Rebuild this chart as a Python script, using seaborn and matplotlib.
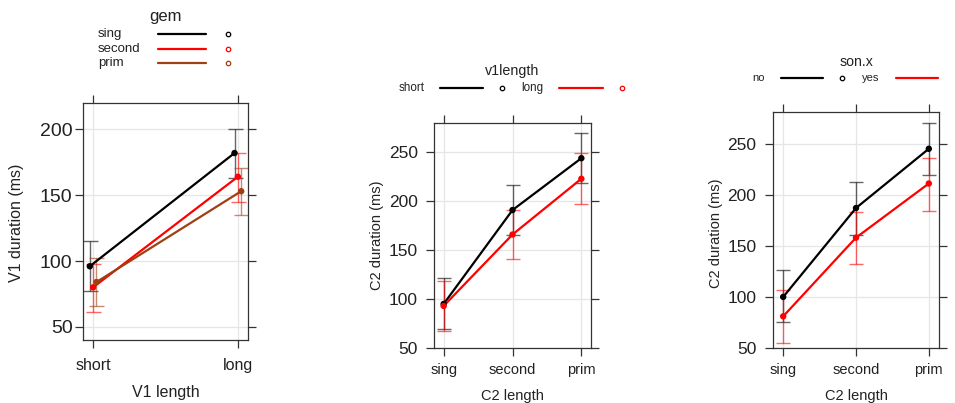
import numpy as np
import pandas as pd
import matplotlib
matplotlib.use("Agg")
import matplotlib.pyplot as plt
from matplotlib.lines import Line2D
import seaborn as sns

sns.set_theme(style="white")
plt.rcParams["font.family"] = ["Liberation Sans", "DejaVu Sans"]

# ---- V1 duration by V1 length, one line per gem level ----
v1_lengths = ["short", "long"]
gem_levels = ["sing", "second", "prim"]
v1_fit = [[96, 182], [80, 164], [84, 153]]
v1_lower = [[77, 163], [61, 145], [66, 135]]
v1_upper = [[115, 200], [98, 182], [102, 171]]

# ---- C2 duration by C2 length, one line per v1length level ----
c2_lengths = ["sing", "second", "prim"]
v1length_levels = ["short", "long"]
c2_fit_v1 = [[95, 191, 244], [93, 166, 223]]
c2_lower_v1 = [[69, 165, 219], [67, 141, 197]]
c2_upper_v1 = [[122, 217, 270], [118, 191, 249]]

# ---- C2 duration by C2 length, one line per son.x level ----
son_levels = ["no", "yes"]
c2_fit_son = [[100, 187, 245], [81, 158, 211]]
c2_lower_son = [[75, 161, 219], [55, 132, 184]]
c2_upper_son = [[126, 212, 270], [107, 183, 236]]

COLORS = ["#000000", "#ff0000", "#9e4012"]
TEXT = "#222222"
W, H = 955, 403


def long_frame(cats, groups, fit, lo, hi, dodge):
    rows = []
    for g, name in enumerate(groups):
        for i, cat in enumerate(cats):
            rows.append({"group": name, "cat": cat, "x": i + 1 + dodge[g],
                         "fit": fit[g][i], "lo": lo[g][i], "hi": hi[g][i]})
    return pd.DataFrame(rows)


def px(x, y):
    return x / W, 1 - y / H


fig = plt.figure(figsize=(W / 100, H / 100), dpi=100)


def make_axes(l, t, r, b):
    return fig.add_axes([l / W, 1 - b / H, (r - l) / W, (b - t) / H])


def draw_panel(ax, df, groups, cats, xlim, ylim, yticks, capsize,
               xtick_fs, ytick_fs, ypad, xpad):
    pal = dict(zip(groups, COLORS))
    ax.set_axisbelow(True)
    ax.grid(True, color="#e6e6e6", lw=0.9)
    for g in groups:
        d = df[df.group == g]
        ax.errorbar(d.x, d.fit, yerr=[d.fit - d.lo, d.hi - d.fit], fmt="none",
                    ecolor=pal[g], elinewidth=1.0, capsize=capsize,
                    capthick=1.0, alpha=0.6, zorder=2)
    sns.lineplot(data=df, x="x", y="fit", hue="group", hue_order=groups,
                 palette=pal, sort=False, estimator=None, errorbar=None,
                 lw=1.6, legend=False, ax=ax, zorder=3)
    sns.scatterplot(data=df, x="x", y="fit", hue="group", hue_order=groups,
                    palette=pal, s=13, linewidth=1.0, edgecolor="face",
                    legend=False, ax=ax, zorder=4)
    ax.set_xlim(*xlim)
    ax.set_ylim(*ylim)
    ax.set_xticks(range(1, len(cats) + 1))
    ax.set_xticklabels(cats)
    ax.set_yticks(yticks)
    ax.set_xlabel("")
    ax.set_ylabel("")
    ax.tick_params(axis="both", direction="out", length=6, width=0.9,
                   color="#333333", labelcolor=TEXT,
                   top=True, right=True, bottom=True, left=True,
                   labeltop=False, labelright=False)
    ax.tick_params(axis="y", pad=ypad, labelsize=ytick_fs)
    ax.tick_params(axis="x", pad=xpad, labelsize=xtick_fs)
    for s in ax.spines.values():
        s.set_color("#333333")
        s.set_linewidth(0.9)


def legend_row(x_text, y, label, x0, x1, xm, color, fs):
    fig.text(*px(x_text, y), label, fontsize=fs, color=TEXT, ha="left", va="center")
    fig.add_artist(Line2D([x0 / W, x1 / W], [1 - y / H] * 2, color=color,
                          lw=1.6, transform=fig.transFigure))
    fig.add_artist(Line2D([xm / W], [1 - y / H], marker="o", ms=3.2,
                          mfc="white", mec=color, mew=0.9, ls="none",
                          transform=fig.transFigure))


# Panel 1
ax1 = make_axes(83, 103, 248, 340)
df1 = long_frame(v1_lengths, gem_levels, v1_fit, v1_lower, v1_upper,
                 [-0.023, 0.0, 0.023])
draw_panel(ax1, df1, gem_levels, v1_lengths, (0.93, 2.07), (40, 220),
           [50, 100, 150, 200], 5.4, 11.5, 14, 1.5, 7)
fig.text(*px(165.5, 393), "V1 length", fontsize=11.5, color=TEXT, ha="center", va="center")
fig.text(*px(17, 223), "V1 duration (ms)", fontsize=11.5, color=TEXT,
         ha="center", va="center", rotation=90)
fig.text(*px(165, 16), "gem", fontsize=12, color=TEXT, ha="center", va="center")
for name, c, y in zip(gem_levels, COLORS, [34, 49, 63]):
    legend_row(98, y, name, 158, 206, 228, c, 9.5)

# Panel 2
ax2 = make_axes(434, 123, 591, 348)
df2 = long_frame(c2_lengths, v1length_levels, c2_fit_v1, c2_lower_v1,
                 c2_upper_v1, [0.0, 0.0])
draw_panel(ax2, df2, v1length_levels, c2_lengths, (0.86, 3.14), (50, 280),
           [50, 100, 150, 200, 250], 4.8, 10.5, 12.5, 5.5, 5)
fig.text(*px(512.5, 396), "C2 length", fontsize=10.5, color=TEXT, ha="center", va="center")
fig.text(*px(377, 235), "C2 duration (ms)", fontsize=10.5, color=TEXT,
         ha="center", va="center", rotation=90)
fig.text(*px(512, 70.5), "v1length", fontsize=10.3, color=TEXT, ha="center", va="center")
legend_row(399, 88, "short", 440, 483, 502, COLORS[0], 8.4)
legend_row(521.5, 88, "long", 559, 603, 622, COLORS[1], 8.4)

# Panel 3
ax3 = make_axes(773, 112, 939, 348)
df3 = long_frame(c2_lengths, son_levels, c2_fit_son, c2_lower_son,
                 c2_upper_son, [0.0, 0.0])
draw_panel(ax3, df3, son_levels, c2_lengths, (0.86, 3.14), (50, 281),
           [50, 100, 150, 200, 250], 4.8, 10.5, 12.5, 6, 5)
fig.text(*px(856, 396), "C2 length", fontsize=10.5, color=TEXT, ha="center", va="center")
fig.text(*px(716, 233), "C2 duration (ms)", fontsize=10.5, color=TEXT,
         ha="center", va="center", rotation=90)
fig.text(*px(856, 61.5), "son.x", fontsize=10.2, color=TEXT, ha="center", va="center")
legend_row(752, 78, "no", 781, 823, 842, COLORS[0], 8.0)
legend_row(862, 78, "yes", 896, 938, 958, COLORS[1], 8.0)

fig.savefig("out.png", dpi=100)
